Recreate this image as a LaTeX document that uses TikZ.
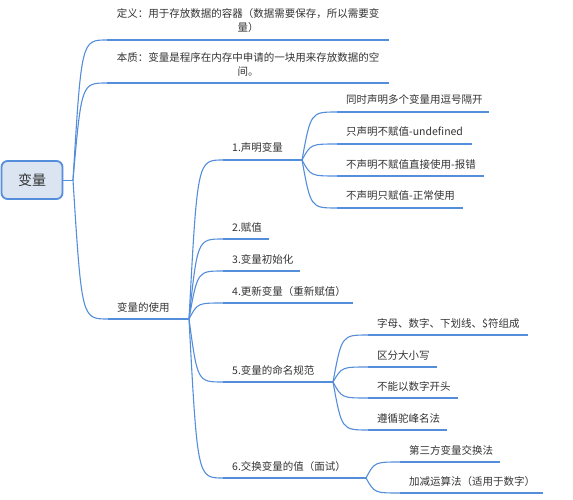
\documentclass[tikz,border=0pt]{standalone}
\usepackage{fontspec}
\setmainfont{Noto Sans CJK SC}
\usetikzlibrary{calc}
\definecolor{lnblue}{RGB}{84,141,218}
\definecolor{rootfill}{RGB}{219,229,242}
\definecolor{txt}{RGB}{51,51,51}
\tikzset{
  ul/.style={draw=lnblue, line width=2.6pt},
  thinl/.style={draw=lnblue, line width=1.1pt},
  curve/.style={draw=lnblue, line width=1.1pt},
  lbl/.style={text=txt, font=\fontsize{10.5}{14}\selectfont, inner sep=0pt, anchor=base west},
  clbl/.style={text=txt, font=\fontsize{10.5}{14}\selectfont, inner sep=0pt, align=center},
}
\newcommand\mmtopic[5]{%
  \coordinate (#1-l) at (#2,#4);
  \coordinate (#1-r) at (#3,#4);
  \draw[ul] (#1-l) -- (#1-r);
  \node[lbl] (#1) at (#2+9,#4-8) {#5};
}
\newcommand\mmlink[2]{%
  \draw[curve] (#1) .. controls ($(#1 |- #2)!0.25!(#2)$) .. (#2);
}
\begin{document}
\begin{tikzpicture}[x=1pt,y=-1pt]
\useasboundingbox (0,0) rectangle (573,500);

% root
\node[draw=lnblue, fill=rootfill, line width=1.8pt, rounded corners=6pt,
      minimum width=61pt, minimum height=38pt, inner sep=0pt,
      font=\fontsize{14}{16}\selectfont, text=txt] (root) at (32,180) {变量};
\coordinate (R) at (73,180);
\draw[lnblue, line width=0.8pt] (root.east) -- (R);

% level 1
\coordinate (def-l) at (107,40);
\coordinate (def-r) at (389,40);
\draw[ul] (def-l) -- (def-r);
\node[clbl] (def) at (248,21) {定义：用于存放数据的容器（数据需要保存，所以需要变\\量）};

\coordinate (ess-l) at (107,83);
\coordinate (ess-r) at (389,83);
\draw[ul] (ess-l) -- (ess-r);
\node[clbl] (ess) at (248,64) {本质：变量是程序在内存中申请的一块用来存放数据的空\\间。};

\mmtopic{use}{108}{177}{319}{变量的使用}
\coordinate (U) at (189,319);
\draw[thinl] (use-r) -- (U);

\mmlink{R}{def-l}
\mmlink{R}{ess-l}
\mmlink{R}{use-l}

% level 2
\mmtopic{d1}{223}{290}{160}{1.声明变量}
\mmtopic{d2}{223}{269}{239}{2.赋值}
\mmtopic{d3}{223}{300}{271}{3.变量初始化}
\mmtopic{d4}{223}{353}{303}{4.更新变量（重新赋值）}
\mmtopic{d5}{223}{322}{382}{5.变量的命名规范}
\mmtopic{d6}{223}{353}{478}{6.交换变量的值（面试）}
\foreach \k in {d1,d2,d3,d4,d5,d6} {\mmlink{U}{\k-l}}

\coordinate (D1) at (302,160);
\draw[thinl] (d1-r) -- (D1);
\coordinate (D5) at (333,382);
\draw[thinl] (d5-r) -- (D5);
\coordinate (D6) at (366,478);
\draw[thinl] (d6-r) -- (D6);

% level 3 under 1
\mmtopic{a1}{337}{489}{112}{同时声明多个变量用逗号隔开}
\mmtopic{a2}{337}{472}{144}{只声明不赋值-undefined}
\mmtopic{a3}{337}{484}{176}{不声明不赋值直接使用-报错}
\mmtopic{a4}{337}{463}{208}{不声明只赋值-正常使用}
\foreach \k in {a1,a2,a3,a4} {\mmlink{D1}{\k-l}}

% level 3 under 5
\mmtopic{b1}{368}{528}{335}{字母、数字、下划线、\$符组成}
\mmtopic{b2}{368}{437}{367}{区分大小写}
\mmtopic{b3}{368}{458}{398}{不能以数字开头}
\mmtopic{b4}{368}{447}{430}{遵循驼峰名法}
\foreach \k in {b1,b2,b3,b4} {\mmlink{D5}{\k-l}}

% level 3 under 6
\mmtopic{c1}{400}{500}{462}{第三方变量交换法}
\mmtopic{c2}{400}{543}{493}{加减运算法（适用于数字）}
\foreach \k in {c1,c2} {\mmlink{D6}{\k-l}}
\end{tikzpicture}
\end{document}
